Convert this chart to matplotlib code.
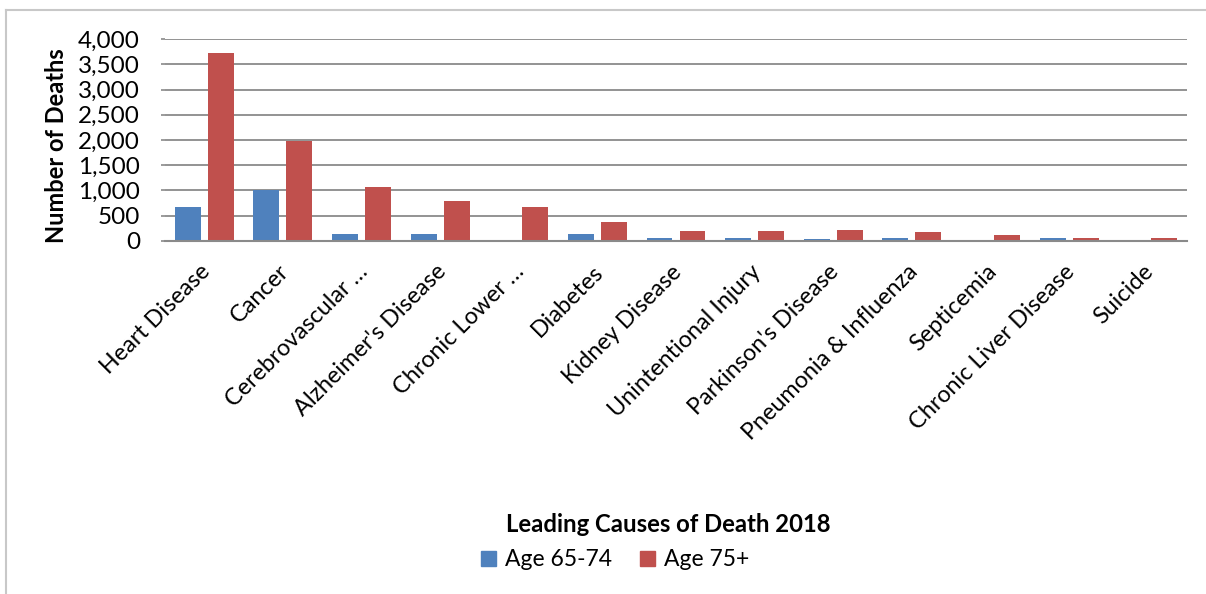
import matplotlib
matplotlib.use("Agg")
import matplotlib.pyplot as plt
import matplotlib.ticker as mticker
from matplotlib.lines import Line2D
from matplotlib.patches import Patch
import matplotlib.transforms as mtransforms
import numpy as np

plt.rcParams['font.family'] = ['Lato', 'DejaVu Sans']

causes = ["Heart Disease", "Cancer", "Cerebrovascular \u2026", "Alzheimer's Disease",
          "Chronic Lower \u2026", "Diabetes", "Kidney Disease", "Unintentional Injury",
          "Parkinson's Disease", "Pneumonia & Influenza", "Septicemia",
          "Chronic Liver Disease", "Suicide"]
age_65_74 = [675, 1013, 132, 126, 5, 132, 50, 60, 25, 55, 15, 55, 15]
age_75_plus = [3735, 1987, 1060, 781, 675, 364, 200, 200, 215, 180, 115, 60, 50]

blue = '#4F81BD'
red = '#C0504D'
grid_col = '#8A8A8A'

fig = plt.figure(figsize=(12.06, 5.94), dpi=100)
ax = fig.add_axes([165 / 1206, 1 - 240.7 / 594, (1187 - 165) / 1206, (240.7 - 39.3) / 594])

x = np.arange(len(causes))
w = 0.33
ax.bar(x - 0.21, age_65_74, w, color=blue, zorder=3)
ax.bar(x + 0.21, age_75_plus, w, color=red, zorder=3)

ax.set_xlim(-0.5, len(causes) - 0.5)
ax.set_ylim(0, 4000)
ax.set_yticks(np.arange(0, 4001, 500))
ax.yaxis.set_major_formatter(mticker.StrMethodFormatter('{x:,.0f}'))
ax.yaxis.grid(True, color=grid_col, lw=1.3, zorder=1)
for s in ['top', 'right', 'left']:
    ax.spines[s].set_visible(False)
ax.spines['bottom'].set_color(grid_col)
ax.spines['bottom'].set_linewidth(1.5)
ax.spines['bottom'].set_zorder(4)
ax.tick_params(axis='y', length=3, color=grid_col, width=1.2, labelsize=17.5, pad=15)
ax.tick_params(axis='x', length=0, pad=6)

ax.set_xticks(x)
ax.set_xticklabels(causes, rotation=45, ha='right', va='top', rotation_mode='anchor', fontsize=16.8)
offset = mtransforms.ScaledTranslation(-5 / 100, -12 / 100, fig.dpi_scale_trans)
for lbl in ax.get_xticklabels():
    lbl.set_transform(lbl.get_transform() + offset)

fig.text(57 / 1206, 1 - 146 / 594, 'Number of Deaths', rotation=90, ha='center', va='center',
         fontsize=17, fontweight='bold')

fig.text(668 / 1206, 1 - 525 / 594, 'Leading Causes of Death 2018', ha='center', va='center',
         fontsize=17.2, fontweight='bold')

handles = [Patch(color=blue, label='Age 65-74'), Patch(color=red, label='Age 75+')]
fig.legend(handles=handles, loc='center', bbox_to_anchor=(615 / 1206, 1 - 560 / 594), ncol=2,
           frameon=False, fontsize=16.5, handlelength=0.65, handleheight=0.65,
           handletextpad=0.4, columnspacing=1.2)

# chart frame (only top and left edges are visible in the crop)
fig.add_artist(Line2D([5.5 / 1206, 1], [1 - 9.5 / 594, 1 - 9.5 / 594], color='#C8C8C8', lw=1.5,
                      transform=fig.transFigure))
fig.add_artist(Line2D([5.5 / 1206, 5.5 / 1206], [0, 1 - 9.5 / 594], color='#C8C8C8', lw=1.5,
                      transform=fig.transFigure))

fig.savefig('out.png', dpi=100)
